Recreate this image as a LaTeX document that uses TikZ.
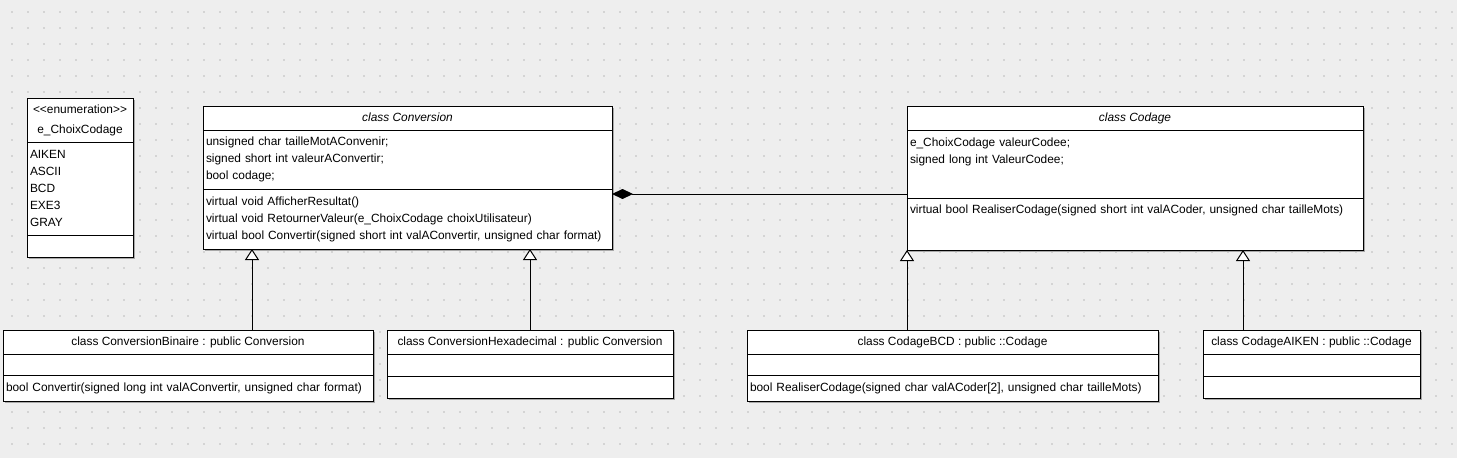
\documentclass[tikz,border=0pt]{standalone}
\usepackage{fontspec}
\setmainfont{Liberation Sans}
\usetikzlibrary{positioning, arrows.meta, shadows}
\definecolor{canvasgray}{HTML}{EEEEEE}
\definecolor{dotgray}{HTML}{D4D4D4}
\definecolor{shadowgray}{HTML}{A8A8A8}

\begin{document}
\begin{tikzpicture}[x=1pt, y=-1pt, line width=1pt, node distance=0pt]
    % Define the styles for the class boxes and the links
    \tikzstyle{umlbox} = [rectangle, draw, fill=white, outer sep=0pt, inner xsep=3pt, inner ysep=3pt,
        font=\fontsize{11.9}{17}\selectfont,
        drop shadow={shadow xshift=2pt, shadow yshift=-2pt, fill=shadowgray, opacity=1}]
    \tikzstyle{classhead} = [umlbox, minimum height=24pt, text height=9pt, text depth=3pt]
    \tikzstyle{compart} = [umlbox, align=left]
    \tikzstyle{inherit} = [-{Triangle[length=11pt, width=14pt, fill=white]}]
    \tikzstyle{compose} = [{Diamond[length=21pt, width=10pt]}-]

    % Draw the dotted background
    \fill[canvasgray] (0,0) rectangle (1457,458);
    \foreach \i in {0,...,90}
        \foreach \j in {0,...,27}
            \fill[dotgray] (11+16*\i, 11+16*\j) rectangle ++(2,2);

    % Create the node for the enumeration
    \node [compart, align=center, text width=100pt, minimum height=44pt, anchor=north west] (enum-h) at (27,98)
        {<\kern0pt<enumeration>\kern0pt>\\[3pt]e\_ChoixCodage};
    \node [compart, text width=100pt, minimum height=93pt, below=of enum-h] (enum-a) {
        AIKEN\\
        ASCII\\
        BCD\\
        EXE3\\
        GRAY
    };
    \node [compart, text width=100pt, minimum height=22pt, below=of enum-a] (enum-m) {};

    % Create the nodes for the base classes
    \node [classhead, minimum width=409pt, anchor=north west] (conv-h) at (203,106) {\itshape class Conversion};
    \node [compart, text width=403pt, minimum height=59pt, below=of conv-h] (conv-a) {
        unsigned char tailleMotAConvenir;\\
        signed short int valeurAConvertir;\\
        bool codage;
    };
    \node [compart, text width=403pt, minimum height=60pt, below=of conv-a] (conv-m) {
        virtual void AfficherResultat()\\
        virtual void RetournerValeur(e\_ChoixCodage choixUtilisateur)\\
        virtual bool Convertir(signed short int valAConvertir, unsigned char format)
    };

    \node [classhead, minimum width=456pt, anchor=north west] (cod-h) at (907,106) {\itshape class Codage};
    \node [compart, text width=450pt, minimum height=68pt, text height=13pt, text depth=49pt, below=of cod-h] (cod-a) {
        e\_ChoixCodage valeurCodee;\\
        signed long int ValeurCodee;
    };
    \node [compart, text width=450pt, minimum height=52pt, text height=12pt, text depth=34pt, below=of cod-a] (cod-m) {
        virtual bool RealiserCodage(signed short int valACoder, unsigned char tailleMots)
    };

    % Create the nodes for the derived classes
    \node [classhead, minimum width=370pt, anchor=north west] (bin-h) at (3,330) {class ConversionBinaire : public Conversion};
    \node [compart, text width=364pt, minimum height=21pt, below=of bin-h] (bin-a) {};
    \node [compart, text width=364pt, minimum height=26pt, below=of bin-a] (bin-m) {
        bool Convertir(signed long int valAConvertir, unsigned char format)
    };

    \node [classhead, minimum width=286pt, anchor=north west] (hex-h) at (387,330) {class ConversionHexadecimal : public Conversion};
    \node [compart, text width=280pt, minimum height=22pt, below=of hex-h] (hex-a) {};
    \node [compart, text width=280pt, minimum height=22pt, below=of hex-a] (hex-m) {};

    \node [classhead, minimum width=411pt, anchor=north west] (bcd-h) at (747,330) {class CodageBCD : public ::Codage};
    \node [compart, text width=405pt, minimum height=21pt, below=of bcd-h] (bcd-a) {};
    \node [compart, text width=405pt, minimum height=26pt, below=of bcd-a] (bcd-m) {
        bool RealiserCodage(signed char valACoder[2], unsigned char tailleMots)
    };

    \node [classhead, minimum width=217pt, anchor=north west] (aik-h) at (1203,330) {class CodageAIKEN : public ::Codage};
    \node [compart, text width=211pt, minimum height=22pt, below=of aik-h] (aik-a) {};
    \node [compart, text width=211pt, minimum height=22pt, below=of aik-a] (aik-m) {};

    % Draw the links between the classes
    \coordinate (bin-g) at (252,0);
    \coordinate (bcd-g) at (907,0);
    \coordinate (aik-g) at (1243,0);
    \coordinate (link) at (760,194);
    \draw [inherit] (bin-h.north -| bin-g) -- (conv-m.south -| bin-g);
    \draw [inherit] (hex-h.north) -- (conv-m.south -| hex-h.north);
    \draw [inherit] (bcd-h.north -| bcd-g) -- (cod-m.south -| bcd-g);
    \draw [inherit] (aik-h.north -| aik-g) -- (cod-m.south -| aik-g);
    \draw [compose] (conv-m.east |- link) -- (cod-a.west |- link);
\end{tikzpicture}
\end{document}
